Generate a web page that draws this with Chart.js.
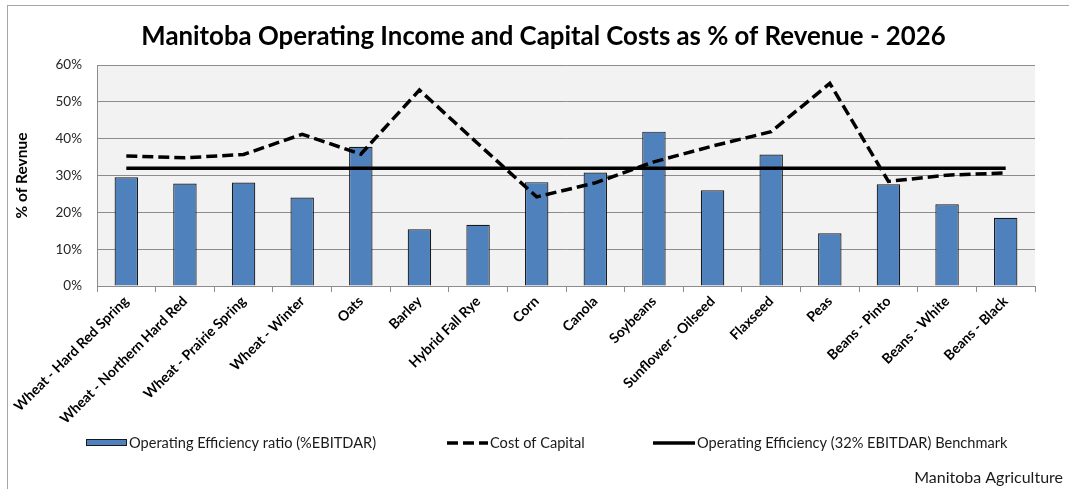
<!DOCTYPE html>
<html>
<head>
<meta charset="utf-8">
<script src="https://cdn.jsdelivr.net/npm/chart.js@4/dist/chart.umd.min.js"></script>
<style>
  html, body { margin: 0; padding: 0; background: #ffffff; }
  #wrap { width: 1069px; height: 489px; position: relative; }
</style>
</head>
<body>
<div id="wrap"><canvas id="c" width="1069" height="489"></canvas></div>
<script>
const titleText = 'Manitoba Operating Income and Capital Costs as % of Revenue - 2026';
const yAxisTitle = '% of Revnue';
const sourceText = 'Manitoba Agriculture';

const categories = [
  'Wheat - Hard Red Spring', 'Wheat - Northern Hard Red', 'Wheat - Prairie Spring', 'Wheat - Winter',
  'Oats', 'Barley', 'Hybrid Fall Rye', 'Corn', 'Canola', 'Soybeans', 'Sunflower - Oilseed',
  'Flaxseed', 'Peas', 'Beans - Pinto', 'Beans - White', 'Beans - Black'
];
const seriesNames = [
  'Operating Efficiency ratio (%EBITDAR)',
  'Cost of Capital',
  'Operating Efficiency (32% EBITDAR) Benchmark'
];
const operatingEfficiency = [29.5, 27.8, 28.1, 24.0, 37.8, 15.4, 16.6, 28.2, 30.8, 41.9, 26.0, 35.7, 14.3, 27.6, 22.2, 18.5];
const costOfCapital       = [35.3, 34.8, 35.7, 41.2, 35.8, 53.2, 38.6, 24.2, 28.0, 33.7, 38.0, 41.9, 55.0, 28.4, 30.1, 30.7];
const benchmarkValue = 32;
const benchmark = categories.map(() => benchmarkValue);
const yTicks = [0, 10, 20, 30, 40, 50, 60];

const FONT = 'Lato, "Open Sans", "Liberation Sans", sans-serif';
const BAR_COLOR = '#4f81bd';
const GRID = '#8c8c8c';
const DASH = [11, 5];

const bgPlugin = {
  id: 'bgPlugin',
  beforeDraw(chart) {
    const { ctx, chartArea: a } = chart;
    ctx.save();
    ctx.fillStyle = '#ffffff';
    ctx.fillRect(0, 0, chart.width, chart.height);
    ctx.strokeStyle = '#a6a6a6';
    ctx.lineWidth = 1;
    ctx.strokeRect(7.5, 5.5, chart.width + 10, chart.height + 10);
    ctx.fillStyle = '#f2f2f2';
    ctx.fillRect(a.left, a.top, a.right - a.left, a.bottom - a.top);
    ctx.restore();
  }
};

const textPlugin = {
  id: 'textPlugin',
  afterDraw(chart) {
    const { ctx } = chart;
    const y = 443;
    ctx.save();
    // title
    ctx.font = 'bold 25.8px ' + FONT;
    ctx.fillStyle = '#000000';
    ctx.textAlign = 'center';
    ctx.textBaseline = 'middle';
    ctx.fillText(titleText, 543.5, 37);
    // legend
    ctx.font = '14.6px ' + FONT;
    ctx.textAlign = 'left';
    ctx.fillStyle = BAR_COLOR;
    ctx.fillRect(86, 440, 40, 6);
    ctx.strokeStyle = '#1a1a1a';
    ctx.lineWidth = 1;
    ctx.strokeRect(86.5, 439.5, 40, 6);
    ctx.fillStyle = '#1a1a1a';
    ctx.fillText(seriesNames[0], 129, y);
    ctx.strokeStyle = '#000';
    ctx.lineWidth = 3.5;
    ctx.setLineDash(DASH);
    ctx.beginPath(); ctx.moveTo(447, y); ctx.lineTo(488, y); ctx.stroke();
    ctx.setLineDash([]);
    ctx.fillText(seriesNames[1], 490, y);
    ctx.beginPath(); ctx.moveTo(653, y); ctx.lineTo(695, y); ctx.stroke();
    ctx.fillText(seriesNames[2], 697, y);
    // source
    ctx.font = '16px ' + FONT;
    ctx.textAlign = 'right';
    ctx.fillText(sourceText, 1063, 478);
    ctx.restore();
  }
};

new Chart(document.getElementById('c'), {
  type: 'bar',
  data: {
    labels: categories,
    datasets: [
      {
        type: 'line',
        label: seriesNames[1],
        data: costOfCapital,
        borderColor: '#000000',
        borderWidth: 3.5,
        borderDash: DASH,
        pointRadius: 0,
        tension: 0,
        fill: false,
        order: 1
      },
      {
        type: 'line',
        label: seriesNames[2],
        data: benchmark,
        borderColor: '#000000',
        borderWidth: 3.5,
        pointRadius: 0,
        tension: 0,
        fill: false,
        order: 2
      },
      {
        type: 'bar',
        label: seriesNames[0],
        data: operatingEfficiency,
        backgroundColor: BAR_COLOR,
        borderColor: '#1a1a1a',
        borderWidth: 1.2,
        barPercentage: 0.4,
        categoryPercentage: 1.0,
        order: 3
      }
    ]
  },
  options: {
    responsive: false,
    animation: false,
    devicePixelRatio: 1,
    layout: { padding: { left: 0, right: 34, top: 65, bottom: 53 } },
    plugins: {
      legend: { display: false },
      tooltip: { enabled: false },
      title: { display: false }
    },
    scales: {
      x: {
        offset: true,
        grid: { offset: true, drawOnChartArea: false, drawTicks: true, tickLength: 6, color: GRID },
        border: { color: GRID, width: 1 },
        ticks: {
          autoSkip: false, minRotation: 45, maxRotation: 45, padding: 1,
          color: '#000000',
          font: { family: FONT, size: 14, weight: 'bold' }
        },
        afterFit(s) { s.height = 150; }
      },
      y: {
        min: 0, max: 60,
        afterBuildTicks(s) { s.ticks = yTicks.map(v => ({ value: v })); },
        grid: { color: GRID, drawTicks: false, tickLength: 0 },
        border: { color: GRID, width: 1 },
        ticks: {
          padding: 15,
          color: '#262626',
          font: { family: FONT, size: 13.5 },
          callback: v => v + '%'
        },
        title: {
          display: true,
          text: yAxisTitle,
          color: '#000000',
          font: { family: FONT, size: 15.5, weight: 'bold' },
          padding: { top: 13, bottom: 4 }
        },
        afterFit(s) { s.width = 97; }
      }
    }
  },
  plugins: [bgPlugin, textPlugin]
});
</script>
</body>
</html>
